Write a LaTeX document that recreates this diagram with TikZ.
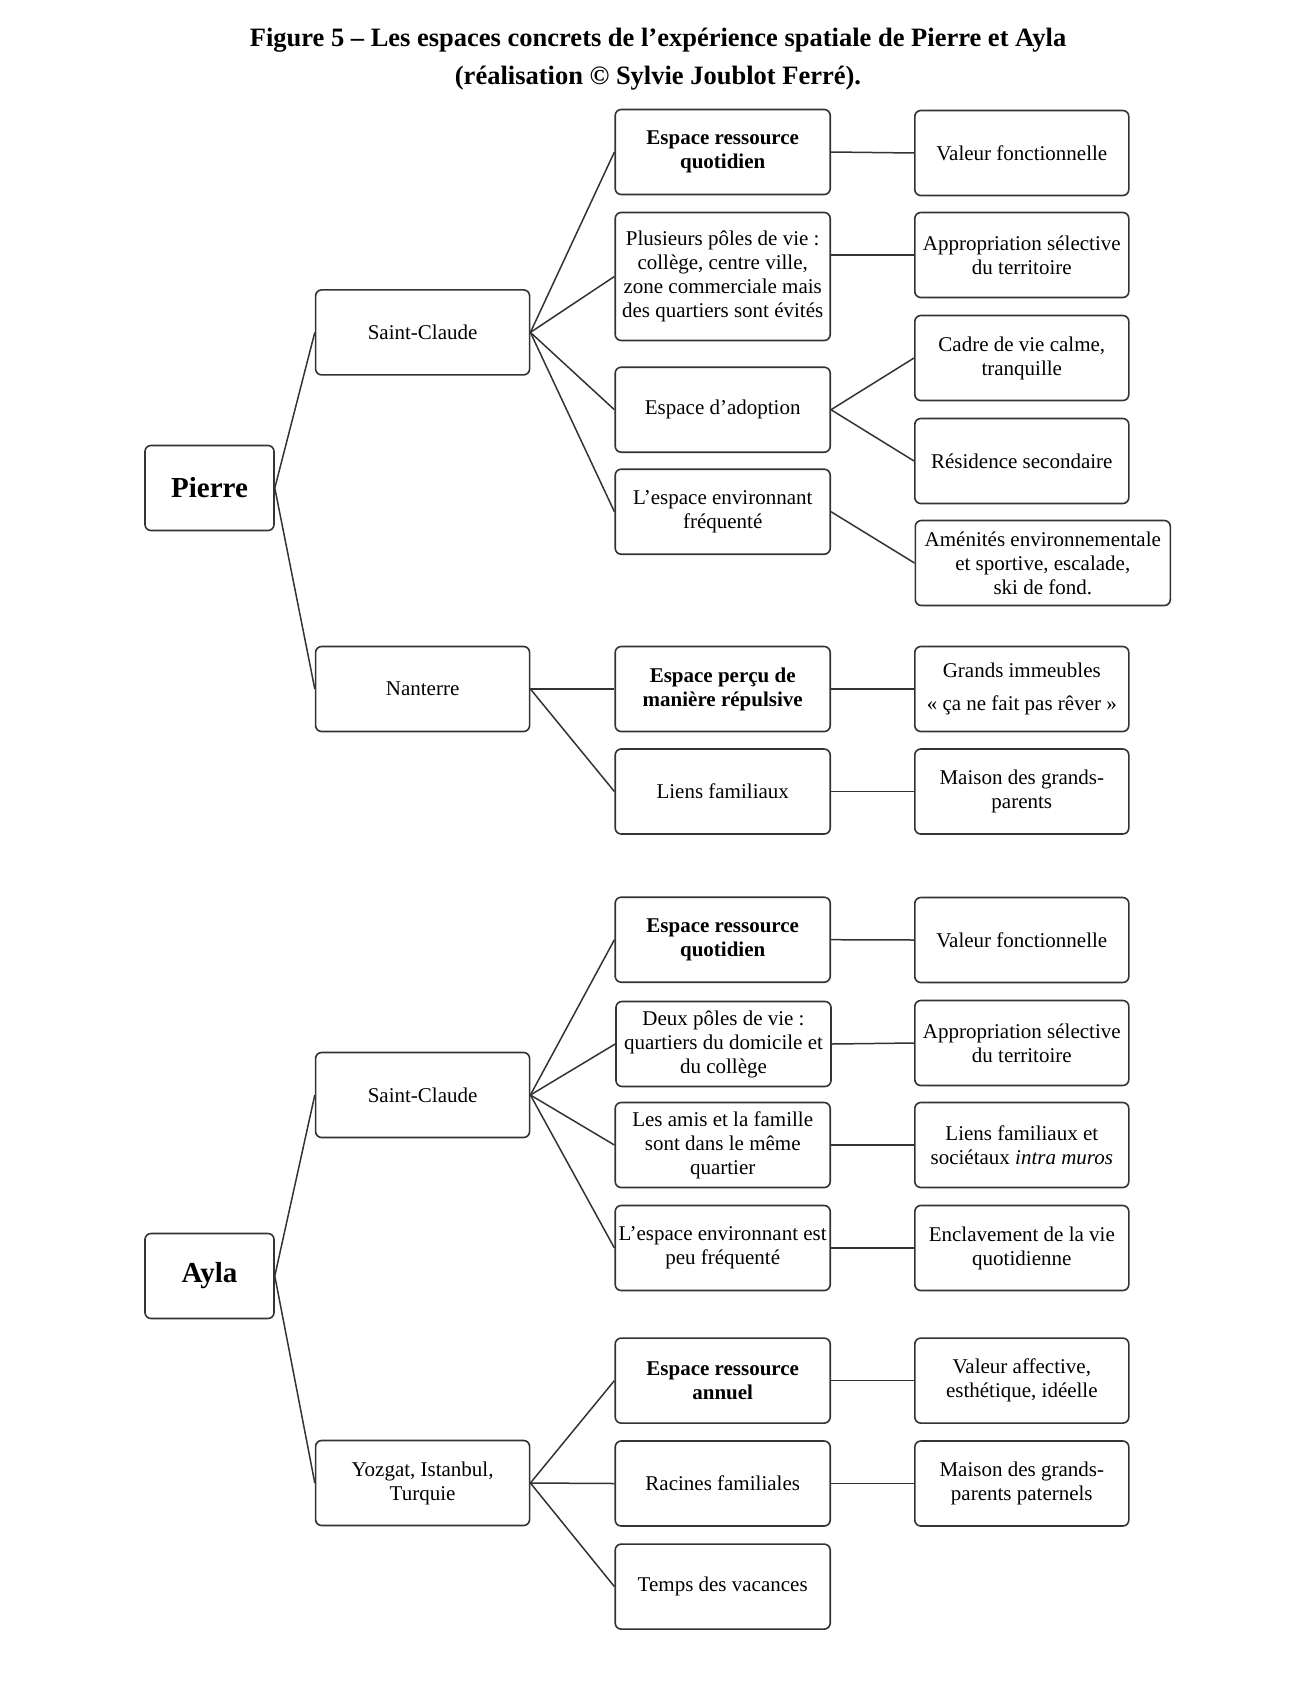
\documentclass[tikz,border=0pt]{standalone}
\usepackage{fontspec}
\setmainfont{Liberation Serif}
\usepackage{xcolor}
\definecolor{ctrait}{HTML}{333333}
\usepackage{tikz}
\usetikzlibrary{positioning}

\tikzset{
  boite/.style={draw=ctrait, line width=1.6pt, rounded corners=6pt, align=center,
    minimum height=85pt, inner sep=2pt, font=\fontsize{21}{24}\selectfont},
  nom/.style={boite, minimum width=129pt, font=\fontsize{29}{34}\selectfont\bfseries},
  lieu/.style={boite, minimum width=214pt},
  milieu/.style={boite, minimum width=215pt},
  droite/.style={boite, minimum width=214pt},
  lien/.style={draw=ctrait, line width=1.5pt},
}

\begin{document}
\begin{tikzpicture}[x=1pt, y=-1pt]
  \useasboundingbox (0,0) rectangle (1308,1684);
  % Titre
  \node[font=\fontsize{26.5}{38.6}\selectfont\bfseries, align=center] (titre) at (658,59)
    {Figure 5 – Les espaces concrets de l’expérience spatiale de Pierre et Ayla\\
     (réalisation © Sylvie Joublot Ferré).};

  % Pierre
  \node[nom] (pierre) at (209.5,488) {Pierre};
  \node[lieu] (scp) at (422.6,332.4) {Saint-Claude};
  \node[lieu] (nant) at (422.6,689) {Nanterre};
  \node[milieu] (erqp) at (722.7,152) {\bfseries Espace ressource\\\bfseries quotidien};
  \node[milieu, minimum height=128pt] (polesp) at (722.7,276.5)
    {Plusieurs pôles de vie :\\collège, centre ville,\\zone commerciale mais\\des quartiers sont évités};
  \node[milieu] (adoptp) at (722.7,409.7) {Espace d’adoption};
  \node[milieu] (envp) at (722.7,511.7) {L’espace environnant\\fréquenté};
  \node[milieu] (percup) at (722.7,689) {\bfseries Espace perçu de\\\bfseries manière répulsive};
  \node[milieu] (liensp) at (722.7,791.5) {Liens familiaux};
  \node[droite] (valp) at (1021.8,153) {Valeur fonctionnelle};
  \node[droite] (appp) at (1021.8,255) {Appropriation sélective\\du territoire};
  \node[droite] (cadrep) at (1021.8,358) {Cadre de vie calme,\\tranquille};
  \node[droite] (residp) at (1021.8,461) {Résidence secondaire};
  \node[droite, minimum width=255pt] (amenp) at (1042.8,563)
    {Aménités environnementale\\et sportive, escalade,\\ski de fond.};
  \node[droite] (grandsp) at (1021.8,689) {Grands immeubles\\[9pt]« ça ne fait pas rêver »};
  \node[droite] (maisonp) at (1021.8,791.5) {Maison des grands-\\parents};

  % Ayla
  \node[nom] (ayla) at (209.5,1276) {Ayla};
  \node[lieu] (sca) at (422.6,1095) {Saint-Claude};
  \node[lieu] (yoz) at (422.6,1483) {Yozgat, Istanbul,\\Turquie};
  \node[milieu] (erqa) at (722.7,939.7) {\bfseries Espace ressource\\\bfseries quotidien};
  \node[milieu] (polesa) at (723.5,1044) {Deux pôles de vie :\\quartiers du domicile et\\du collège};
  \node[milieu] (amisa) at (722.7,1145) {Les amis et la famille\\sont dans le même\\quartier};
  \node[milieu] (enva) at (722.7,1248) {L’espace environnant est\\peu fréquenté};
  \node[milieu] (eraa) at (722.7,1380.6) {\bfseries Espace ressource\\\bfseries annuel};
  \node[milieu] (racina) at (722.7,1483.5) {Racines familiales};
  \node[milieu] (tempsa) at (722.7,1586.6) {Temps des vacances};
  \node[droite] (vala) at (1021.8,940) {Valeur fonctionnelle};
  \node[droite] (appa) at (1021.8,1043) {Appropriation sélective\\du territoire};
  \node[droite] (liensa) at (1021.8,1145) {Liens familiaux et\\sociétaux \textit{intra muros}};
  \node[droite] (enclava) at (1021.8,1248) {Enclavement de la vie\\quotidienne};
  \node[droite] (affecta) at (1021.8,1380.6) {Valeur affective,\\esthétique, idéelle};
  \node[droite] (maisona) at (1021.8,1483.5) {Maison des grands-\\parents paternels};

  % Liens
  \foreach \b in {scp,nant} \draw[lien] (pierre.east) -- (\b.west);
  \foreach \b in {erqp,polesp,adoptp,envp} \draw[lien] (scp.east) -- (\b.west);
  \foreach \b in {percup,liensp} \draw[lien] (nant.east) -- (\b.west);
  \foreach \b in {cadrep,residp} \draw[lien] (adoptp.east) -- (\b.west);
  \draw[lien] (erqp.east) -- (valp.west);
  \draw[lien] (appp.west -| polesp.east) -- (appp.west);
  \draw[lien] (envp.east) -- (amenp.west);
  \draw[lien] (percup.east) -- (grandsp.west);
  \draw[lien] (liensp.east) -- (maisonp.west);

  \foreach \b in {sca,yoz} \draw[lien] (ayla.east) -- (\b.west);
  \foreach \b in {erqa,polesa,amisa,enva} \draw[lien] (sca.east) -- (\b.west);
  \foreach \b in {eraa,racina,tempsa} \draw[lien] (yoz.east) -- (\b.west);
  \draw[lien] (erqa.east) -- (vala.west);
  \draw[lien] (polesa.east) -- (appa.west);
  \draw[lien] (amisa.east) -- (liensa.west);
  \draw[lien] (enva.east) -- (enclava.west);
  \draw[lien] (eraa.east) -- (affecta.west);
  \draw[lien] (racina.east) -- (maisona.west);
\end{tikzpicture}
\end{document}
